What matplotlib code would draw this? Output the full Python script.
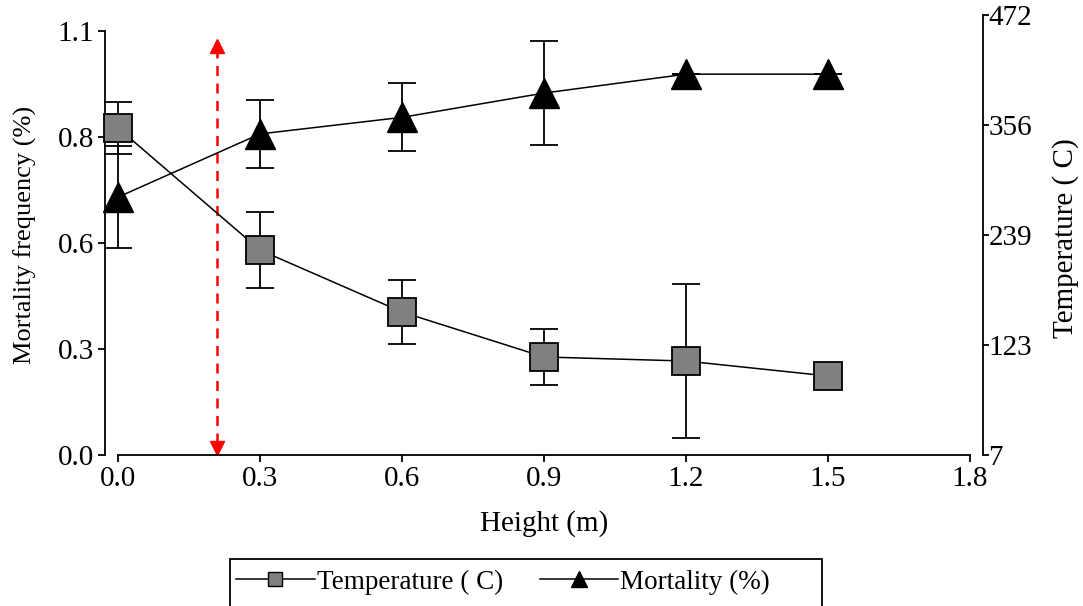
import matplotlib
matplotlib.use("Agg")
import matplotlib.pyplot as plt
import numpy as np
from matplotlib.lines import Line2D
from matplotlib.patches import Rectangle

# ---- data ----
height = [0.0, 0.3, 0.6, 0.9, 1.2, 1.5]
temperature = [352.6, 223.6, 158.1, 110.6, 106.3, 90.5]
temperature_err = [27.5, 40.5, 34.2, 29.6, 81.6, 0.0]
mortality = [0.669, 0.833, 0.876, 0.939, 0.988, 0.988]
mortality_err = [0.132, 0.088, 0.088, 0.136, 0.0, 0.0]
x_ticks = [0.0, 0.3, 0.6, 0.9, 1.2, 1.5, 1.8]
left_ticks = list(np.linspace(0, 1.1, 5))
left_labels = ['0.0', '0.3', '0.6', '0.8', '1.1']
right_ticks = list(np.linspace(7, 472, 5))
right_labels = ['7', '123', '239', '356', '472']
arrow_x = 0.21

plt.rcParams['font.family'] = ['Liberation Serif', 'DejaVu Serif']
FS = 21

fig = plt.figure(figsize=(10.83, 6.06), dpi=100)
W, H = 1083, 606
ax = fig.add_axes([118 / W, 1 - 455 / H, 852 / W, 440 / H])
ax2 = ax.twinx()

ax.set_xlim(0, 1.8)
ax.set_ylim(0, 1.1 * 440 / 424)
ax2.set_ylim(7, 472)

eb1 = ax.errorbar(height, mortality, yerr=mortality_err, color='black', lw=1.1,
                  marker='^', markersize=21, markerfacecolor='black',
                  markeredgecolor='black', ecolor='black', elinewidth=1.3,
                  capsize=10, capthick=1.3, zorder=3)
eb2 = ax2.errorbar(height, temperature, yerr=temperature_err, color='black', lw=1.1,
                   marker='s', markersize=20, markerfacecolor='#808080',
                   markeredgecolor='black', markeredgewidth=1.3, ecolor='black',
                   elinewidth=1.3, capsize=10, capthick=1.3, zorder=3)
for eb in (eb1, eb2):
    for child in eb.get_children():
        child.set_clip_on(False)

# red dashed double arrow
ax.plot([arrow_x, arrow_x], [0.03, 1.045], color='red', lw=1.8,
        ls=(0, (4, 3)), zorder=2)
ax.plot([arrow_x], [1.06], marker='^', color='red', markersize=10, zorder=2,
        clip_on=False)
ax.plot([arrow_x], [0.017], marker='v', color='red', markersize=10, zorder=2,
        clip_on=False)

# spines
for a in (ax, ax2):
    a.spines['top'].set_visible(False)
ax.spines['right'].set_visible(False)
ax2.spines['left'].set_visible(False)
ax2.spines['bottom'].set_visible(False)
ax.spines['left'].set_position(('outward', 9.4))
ax.spines['left'].set_bounds(0, 1.1)
ax2.spines['right'].set_position(('outward', 9.4))
for s in ('left', 'bottom'):
    ax.spines[s].set_linewidth(1.3)
ax2.spines['right'].set_linewidth(1.3)

ax.set_xticks(x_ticks)
ax.set_xticklabels(['%.1f' % v for v in x_ticks])
ax.set_yticks(left_ticks)
ax.set_yticklabels(left_labels)
ax2.set_yticks(right_ticks)
ax2.set_yticklabels(right_labels)

ax.tick_params(axis='both', direction='out', length=5, width=1.3,
               labelsize=FS, pad=3)
ax2.tick_params(axis='y', direction='out', length=4, width=1.3,
                labelsize=FS, pad=0)

ax.set_xlabel('Height (m)', fontsize=21)
ax.set_ylabel('Mortality frequency (%)', fontsize=19)
ax2.set_ylabel('Temperature ( C)', fontsize=21)
ax.xaxis.set_label_coords(0.5, -(510 - 455) / 440)
ax.yaxis.set_label_coords((37 - 118) / 852, (455 - 235) / 440)
ax2.yaxis.set_label_coords((1052 - 118) / 852, (455 - 238) / 440)

# legend
LFS = 19.5
handles = [
    Line2D([], [], color='black', lw=1.1, marker='s', markersize=10,
           markerfacecolor='#808080', markeredgecolor='black'),
    Line2D([], [], color='black', lw=1.1, marker='^', markersize=11,
           markerfacecolor='black', markeredgecolor='black'),
]
fig.legend(handles, ['Temperature ( C)', 'Mortality (%)'], ncol=2,
           loc='center left', bbox_to_anchor=(236 / W, 1 - 582 / H),
           frameon=False, fontsize=LFS, handlelength=2.9, handletextpad=0.08,
           columnspacing=1.35, borderaxespad=0, borderpad=0)
fig.patches.append(Rectangle((230 / W, -0.05), (822 - 230) / W,
                             (1 - 559 / H) + 0.05, transform=fig.transFigure,
                             fill=False, edgecolor='black', lw=1.3))

fig.savefig('out.png', dpi=100)
